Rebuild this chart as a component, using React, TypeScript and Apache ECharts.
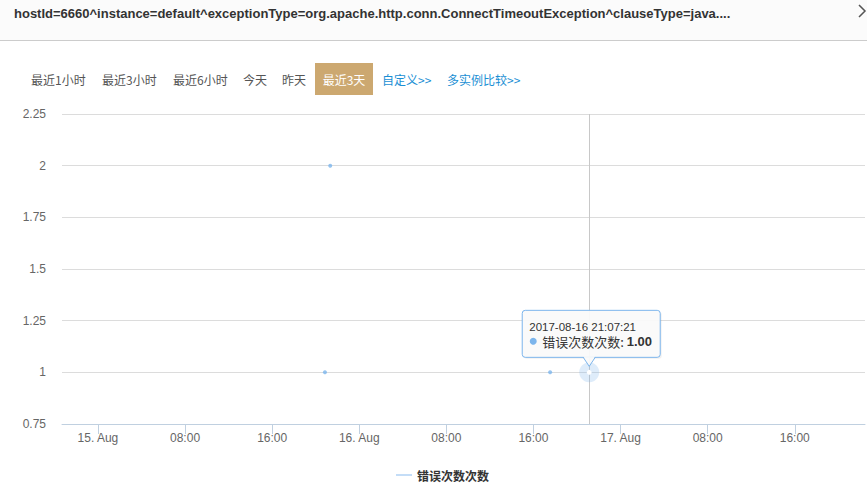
import React, { useEffect, useRef } from 'react';
import * as echarts from 'echarts';

const titleText =
  'hostId=6660^instance=default^exceptionType=org.apache.http.conn.ConnectTimeoutException^clauseType=java....';
const rangeButtons = ['最近1小时', '最近3小时', '最近6小时', '今天', '昨天'];
const activeButton = '最近3天';
const linkButtons = ['自定义>>', '多实例比较>>'];
const seriesName = '错误次数次数';
const pointTimes = ['2017-08-15 20:51:00', '2017-08-15 21:20:00', '2017-08-16 17:32:00', '2017-08-16 21:07:21'];
const pointValues = [1, 2, 1, 1];
const hoverIndex = 3;
const xTickTimes = [
  '2017-08-15 00:00:00', '2017-08-15 08:00:00', '2017-08-15 16:00:00',
  '2017-08-16 00:00:00', '2017-08-16 08:00:00', '2017-08-16 16:00:00',
  '2017-08-17 00:00:00', '2017-08-17 08:00:00', '2017-08-17 16:00:00',
];
const xMinTime = '2017-08-14 20:42:00';
const xMaxTime = '2017-08-17 22:27:00';
const yMin = 0.75;
const yMax = 2.25;
const yStep = 0.25;
const monthNames = ['Jan', 'Feb', 'Mar', 'Apr', 'May', 'Jun', 'Jul', 'Aug', 'Sep', 'Oct', 'Nov', 'Dec'];

function toMs(s: string): number {
  const [d, t] = s.split(' ');
  const [Y, M, D] = d.split('-').map(Number);
  const [h, m, sec] = t.split(':').map(Number);
  return Date.UTC(Y, M - 1, D, h, m, sec || 0);
}
const pad = (n: number) => (n < 10 ? '0' + n : '' + n);

const FONT = 'Arial, "Liberation Sans", "Noto Sans CJK SC", sans-serif';
const CJK = '"Noto Sans CJK SC", Arial, sans-serif';

export default function App() {
  const ref = useRef<HTMLDivElement>(null);
  useEffect(() => {
    if (!ref.current) return;
    const chart = echarts.init(ref.current, undefined, { renderer: 'svg' });
    const data = pointTimes.map((t, i) => [toMs(t), pointValues[i]]);
    const hoverPt = data[hoverIndex];
    const ticks = xTickTimes.map(toMs);

    const header: any[] = [
      { type: 'rect', shape: { x: 0, y: 0, width: 867, height: 40 }, style: { fill: '#fbfbfb' }, silent: true },
      { type: 'line', shape: { x1: 0, y1: 40.5, x2: 867, y2: 40.5 }, style: { stroke: '#cccccc', lineWidth: 1 } },
      {
        type: 'text', x: 14, y: 13,
        style: { text: titleText, fill: '#333', fontSize: 13, fontWeight: 'bold', fontFamily: FONT, verticalAlign: 'middle', align: 'left' },
      },
      { type: 'polyline', shape: { points: [[859, 5], [865, 11], [859, 17]] }, style: { stroke: '#555', lineWidth: 1.5, fill: null } },
    ];
    const btnX = [31, 102, 173, 243, 282];
    rangeButtons.forEach((b, i) => {
      header.push({
        type: 'text', x: btnX[i], y: 79,
        style: { text: b, fill: '#555', fontSize: 12, fontFamily: CJK, verticalAlign: 'middle', align: 'left' },
      });
    });
    header.push({ type: 'rect', shape: { x: 315, y: 63, width: 58, height: 32 }, style: { fill: '#cca870' } });
    header.push({
      type: 'text', x: 344, y: 79,
      style: { text: activeButton, fill: '#fff', fontSize: 12, fontFamily: CJK, verticalAlign: 'middle', align: 'center' },
    });
    const linkX = [382, 447];
    linkButtons.forEach((b, i) => {
      header.push({
        type: 'text', x: linkX[i], y: 79,
        style: { text: b, fill: '#1a8fd4', fontSize: 12, fontFamily: CJK, verticalAlign: 'middle', align: 'left' },
      });
    });

    const option: any = {
      animation: false,
      backgroundColor: '#fff',
      grid: { left: 62, right: 2, top: 114, bottom: 68, containLabel: false },
      legend: {
        left: 391, top: 464, icon: 'rect', itemWidth: 16, itemHeight: 2,
        data: [{ name: seriesName, itemStyle: { color: '#b5d5f5' } }],
        textStyle: { fontSize: 12, fontWeight: 'bold', color: '#333', fontFamily: CJK },
        selectedMode: false,
      },
      xAxis: {
        type: 'value',
        min: toMs(xMinTime),
        max: toMs(xMaxTime),
        axisLine: { show: true, lineStyle: { color: '#c0d0e0', width: 1 } },
        axisTick: { show: true, length: 10, lineStyle: { color: '#c0d0e0' }, customValues: ticks },
        splitLine: { show: false },
        axisLabel: {
          customValues: ticks,
          color: '#666', fontSize: 12, fontFamily: FONT, margin: 8, hideOverlap: false,
          formatter: (v: number) => {
            const d = new Date(v);
            const h = d.getUTCHours();
            const m = d.getUTCMinutes();
            if (h === 0 && m === 0) return `${d.getUTCDate()}. ${monthNames[d.getUTCMonth()]}`;
            return `${pad(h)}:${pad(m)}`;
          },
        },
      },
      yAxis: {
        type: 'value', min: yMin, max: yMax, interval: yStep,
        axisLine: { show: false }, axisTick: { show: false },
        splitLine: { lineStyle: { color: '#dcdcdc', width: 1 } },
        axisLabel: { color: '#666', fontSize: 12, fontFamily: FONT, margin: 16 },
      },
      series: [
        {
          name: seriesName,
          type: 'scatter',
          data,
          symbol: 'circle',
          symbolSize: 4,
          itemStyle: { color: '#7cb5ec' },
          silent: true,
          markLine: {
            silent: true, symbol: 'none', animation: false,
            label: { show: false },
            lineStyle: { color: '#c8c8c8', width: 1, type: 'solid' },
            data: [{ xAxis: hoverPt[0] }],
          },
          markPoint: {
            silent: true, animation: false,
            label: { show: false },
            data: [
              { coord: hoverPt, symbol: 'circle', symbolSize: 20, itemStyle: { color: 'rgba(124,181,236,0.25)' } },
              { coord: hoverPt, symbol: 'circle', symbolSize: 5, itemStyle: { color: '#ffffff' } },
            ],
          },
        },
      ],
      graphic: header,
    };
    chart.setOption(option);

    const [px, py] = chart.convertToPixel({ gridIndex: 0 }, hoverPt) as number[];
    const L = px - 67;
    const W = 138;
    const B = py - 15;
    const T = B - 47;
    const fillC = 'rgba(250,250,250,0.95)';
    const tip: any[] = [
      {
        type: 'rect', shape: { x: L + 1.5, y: T + 1.5, width: W, height: B - T, r: 3 },
        style: { fill: 'rgba(0,0,0,0.06)' }, z: 100,
      },
      {
        type: 'rect', shape: { x: L, y: T, width: W, height: B - T, r: 3 },
        style: { fill: fillC, stroke: '#7cb5ec', lineWidth: 1 }, z: 101,
      },
      {
        type: 'polygon', shape: { points: [[px - 6, B - 1], [px, B + 9], [px + 6, B - 1]] },
        style: { fill: fillC }, z: 102,
      },
      {
        type: 'polyline', shape: { points: [[px - 6, B], [px, B + 9], [px + 6, B]] },
        style: { stroke: '#7cb5ec', lineWidth: 1, fill: null }, z: 103,
      },
      {
        type: 'text', x: L + 7, y: T + 17, z: 104,
        style: {
          text: pointTimes[hoverIndex], fill: '#333', fontSize: 11.5, lineHeight: 11,
          fontFamily: FONT, verticalAlign: 'middle', align: 'left',
        },
      },
      { type: 'circle', shape: { cx: L + 11, cy: T + 31, r: 3.5 }, style: { fill: '#7cb5ec' }, z: 104 },
      {
        type: 'text', x: L + 20, y: T + 31, z: 104,
        style: {
          text: `{n|${seriesName}: }{b|${pointValues[hoverIndex].toFixed(2)}}`,
          verticalAlign: 'middle', align: 'left', lineHeight: 13,
          rich: {
            n: { fontSize: 13, lineHeight: 13, fill: '#333', fontFamily: CJK },
            b: { fontSize: 13, lineHeight: 13, fill: '#333', fontWeight: 'bold', fontFamily: FONT },
          },
        },
      },
    ];
    chart.setOption({ graphic: [...header, ...tip] });

    return () => chart.dispose();
  }, []);
  return <div ref={ref} style={{ position: 'fixed', left: 0, top: 0, width: 867, height: 492, background: '#fff' }} />;
}
